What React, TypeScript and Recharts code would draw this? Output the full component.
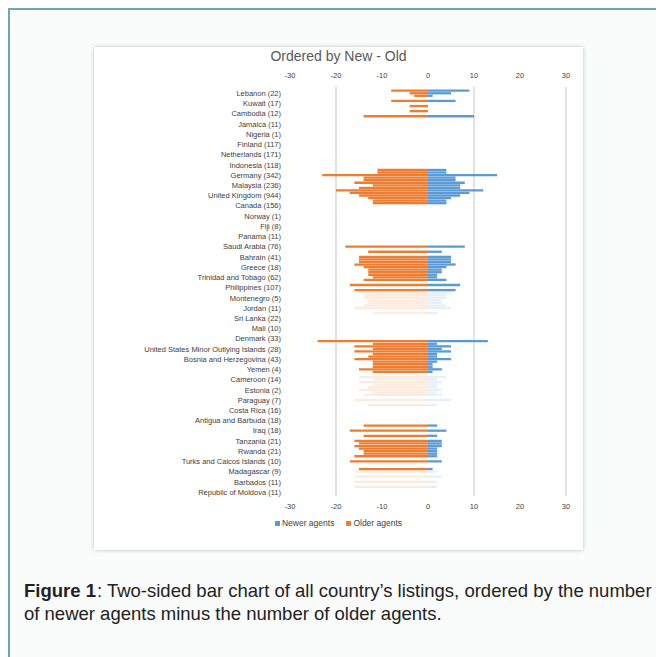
import { ComposedChart, Bar, Line, XAxis, YAxis, CartesianGrid, Legend, Cell } from "recharts"

// only every 4th country gets a label on the axis (as in the Excel original)
const countries = [
  "Lebanon (22)", "Kuwait (17)", "Cambodia (12)", "Jamaica (11)", "Nigeria (1)",
  "Finland (117)", "Netherlands (171)", "Indonesia (118)", "Germany (342)", "Malaysia (236)",
  "United Kingdom (944)", "Canada (156)", "Norway (1)", "Fiji (8)", "Panama (11)",
  "Saudi Arabia (76)", "Bahrain (41)", "Greece (18)", "Trinidad and Tobago (62)", "Philippines (107)",
  "Montenegro (5)", "Jordan (11)", "Sri Lanka (22)", "Mali (10)", "Denmark (33)",
  "United States Minor Outlying Islands (28)", "Bosnia and Herzegovina (43)", "Yemen (4)", "Cameroon (14)", "Estonia (2)",
  "Paraguay (7)", "Costa Rica (16)", "Antigua and Barbuda (18)", "Iraq (18)", "Tanzania (21)",
  "Rwanda (21)", "Turks and Caicos Islands (10)", "Madagascar (9)", "Barbados (11)", "Republic of Moldova (11)",
]

// older agents per row (drawn to the left)
const older = [
  0, 8, 4, 3, 0, 8, 0, 4, 0, 4,
  0, 14, 0, 0, 0, 0, 0, 0, 0, 0,
  0, 0, 0, 0, 0, 0, 0, 0, 0, 0,
  0, 0, 11, 11, 23, 14, 14, 16, 12, 15,
  20, 17, 15, 13, 12, 12, 0, 0, 0, 0,
  0, 0, 0, 0, 0, 0, 0, 0, 0, 0,
  0, 0, 18, 0, 13, 0, 15, 15, 15, 16,
  14, 13, 13, 13, 12, 14, 0, 17, 0, 16,
  15, 14, 14, 13, 13, 14, 16, 0, 12, 0,
  0, 0, 0, 0, 0, 0, 0, 0, 0, 24,
  12, 16, 12, 16, 12, 13, 16, 12, 12, 12,
  15, 12, 0, 15, 12, 15, 12, 13, 15, 12,
  14, 0, 16, 0, 13, 0, 0, 0, 0, 0,
  0, 0, 14, 0, 17, 0, 14, 0, 16, 15,
  16, 15, 14, 14, 16, 0, 17, 0, 0, 15,
  16, 0, 16, 0, 16, 0, 16, 0, 0, 0,
]

// newer agents per row (drawn to the right)
const newer = [
  0, 9, 5, 1, 0, 6, 0, 0, 0, 0,
  0, 10, 0, 0, 0, 0, 0, 0, 0, 0,
  0, 0, 0, 0, 0, 0, 0, 0, 0, 0,
  0, 0, 4, 4, 15, 6, 6, 8, 7, 7,
  12, 9, 7, 5, 4, 4, 0, 0, 0, 0,
  0, 0, 0, 0, 0, 0, 0, 0, 0, 0,
  0, 0, 8, 0, 3, 0, 5, 5, 5, 6,
  4, 3, 3, 2, 2, 4, 0, 7, 0, 6,
  5, 4, 4, 3, 3, 4, 5, 0, 2, 0,
  0, 0, 0, 0, 0, 0, 0, 0, 0, 13,
  2, 5, 3, 5, 2, 2, 5, 2, 1, 1,
  3, 1, 0, 4, 2, 3, 2, 2, 3, 2,
  3, 0, 5, 0, 2, 0, 0, 0, 0, 0,
  0, 0, 2, 0, 4, 0, 2, 0, 3, 3,
  3, 2, 2, 2, 2, 0, 3, 0, 0, 1,
  2, 0, 3, 0, 2, 0, 2, 0, 0, 0,
]

const axisTicks = [-30, -20, -10, 0, 10, 20, 30]
const gridValues = [-20, 10, 30]

// rows that look washed out in the scan
const fadedRanges = [[80, 88], [113, 124], [150, 156]]
const isFaded = (i: number) => fadedRanges.some(([a, b]) => i >= a && i <= b)

const rows = older.map((o, i) => ({
  row: i,
  name: i % 4 === 2 ? countries[(i - 2) / 4] : "",
  newer: newer[i],
  older: -o,
}))

const BLUE = "#5b9bd5"
const ORANGE = "#ed7d31"
const GREY = "#404040"
const FONT = "'Liberation Sans', Arial, sans-serif"

const LegendBox = () => (
  <div style={{ height: 14, display: "flex", justifyContent: "center", alignItems: "center", fontSize: 8.5, color: GREY, fontFamily: FONT }}>
    <span style={{ width: 5, height: 5, background: BLUE, marginRight: 2 }} />
    <span style={{ marginRight: 12 }}>Newer agents</span>
    <span style={{ width: 5, height: 5, background: ORANGE, marginRight: 2 }} />
    <span>Older agents</span>
  </div>
)

// plain text tick so long country names never wrap
const CountryTick = ({ x, y, payload }: any) => {
  const name = rows[payload.value]?.name
  if (!name) return null
  return (
    <text x={x} y={y} dy="0.35em" textAnchor="end" fontSize={7.5} fill={GREY} fontFamily={FONT}>
      {name}
    </text>
  )
}

export default function App() {
  const tickStyle = { fontSize: 7.5, fill: GREY, fontFamily: FONT }
  return (
    <div style={{ position: "relative", width: 656, height: 649, boxSizing: "border-box", borderTop: "2px solid #6fa8a8", borderLeft: "2px solid #6fa8a8", background: "#fafbfb", overflow: "hidden" }}>
      <div style={{ position: "absolute", left: 84, top: 37, width: 489, height: 503, background: "#fff", boxShadow: "0 0 4px rgba(0,0,0,0.25)" }}>
        <div style={{ position: "absolute", top: 1, width: "100%", textAlign: "center", fontSize: 14, color: "#595959", fontFamily: FONT }}>
          Ordered by New - Old
        </div>
        <ComposedChart
          width={489}
          height={503}
          data={rows}
          layout="vertical"
          stackOffset="sign"
          barCategoryGap={0}
          barGap={0}
          margin={{ top: 20, right: 17, bottom: 20, left: 0 }}
        >
          <CartesianGrid horizontal={false} verticalValues={gridValues} stroke="#d9d9d9" strokeWidth={1.5} />
          <XAxis type="number" domain={[-30, 30]} ticks={axisTicks} axisLine={false} tickLine={false} tickSize={0} tickMargin={8} height={20} tick={tickStyle} />
          <XAxis xAxisId="top" orientation="top" type="number" domain={[-30, 30]} ticks={axisTicks} axisLine={false} tickLine={false} tickSize={0} tickMargin={9} height={20} tick={tickStyle} />
          <YAxis
            type="category"
            dataKey="row"
            width={196}
            interval={0}
            axisLine={false}
            tickLine={false}
            tickSize={0}
            tickMargin={9}
            tick={<CountryTick />}
          />
          <Legend verticalAlign="bottom" content={<LegendBox />} wrapperStyle={{ left: 0, width: 489 }} />
          <Bar dataKey="newer" name="Newer agents" stackId="a" fill={BLUE} barSize={2.6} isAnimationActive={false}>
            {rows.map((r) => (
              <Cell key={r.row} fillOpacity={isFaded(r.row) ? 0.15 : 1} />
            ))}
          </Bar>
          <Bar dataKey="older" name="Older agents" stackId="a" fill={ORANGE} barSize={2.6} isAnimationActive={false}>
            {rows.map((r) => (
              <Cell key={r.row} fillOpacity={isFaded(r.row) ? 0.15 : 1} />
            ))}
          </Bar>
          {/* invisible series so the secondary (top) axis gets drawn */}
          <Line xAxisId="top" dataKey="newer" stroke="none" dot={false} activeDot={false} legendType="none" isAnimationActive={false} />
        </ComposedChart>
      </div>
      <div style={{ position: "absolute", left: 14, top: 569, width: 640, fontFamily: FONT, fontSize: 18.5, lineHeight: "23px", color: "#222", whiteSpace: "nowrap" }}>
        <div><b style={{ marginRight: 1 }}>Figure 1</b>: Two-sided bar chart of all country’s listings, ordered by the number</div>
        <div>of newer agents minus the number of older agents.</div>
      </div>
    </div>
  )
}
